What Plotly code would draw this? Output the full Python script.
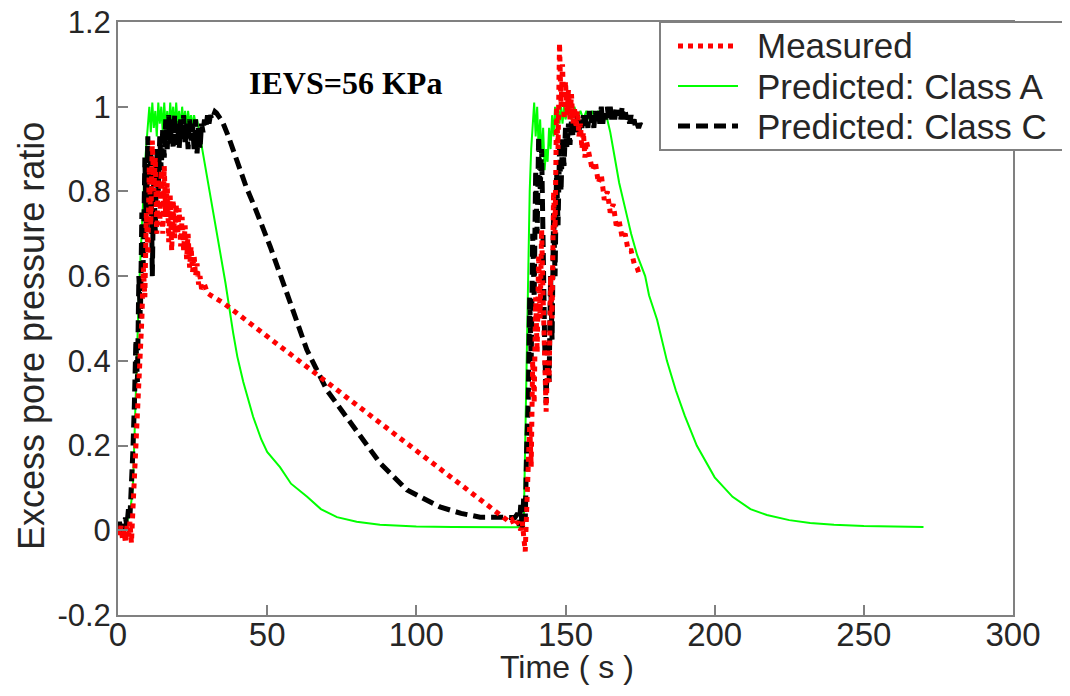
import plotly.graph_objects as go

# ---------------- data ----------------
t_meas = [0, 0.5, 1, 1.5, 2, 2.5, 3, 3.5, 4, 4.5,
          5, 5.5, 6, 6.5, 7, 7.5, 8, 8.5, 9, 9.5,
          10, 10.5, 11, 11.5, 12, 12.5, 13, 13.5, 14, 14.5,
          15, 15.5, 16, 16.5, 17, 17.5, 18, 18.5, 19, 19.5,
          20, 20.5, 21, 21.5, 22, 22.5, 23, 23.5, 24, 24.5,
          25, 25.5, 26, 26.5, 27, 27.5, 28, 29, 30, 31,
          32, 33, 34, 35.3, 130.4, 131, 132, 133, 134, 135,
          135.5, 136, 136.5, 137, 137.5, 138, 138.5, 139, 139.5, 140,
          140.5, 141, 141.5, 142, 142.5, 143, 143.5, 144, 144.5, 145,
          145.5, 146, 146.5, 147, 147.5, 148, 148.5, 149, 149.5, 150,
          150.5, 151, 151.5, 152, 152.5, 153, 153.5, 154, 154.5, 155,
          155.5, 156, 156.5, 157, 158, 159, 160, 161, 162, 163,
          164, 165, 166, 167, 168, 169, 170, 171, 172, 173,
          174, 175]
y_meas = [0.00, -0.01, 0.01, -0.02, 0.00, -0.03, 0.01, -0.02, 0.02, -0.03,
          0.05, 0.12, 0.19, 0.26, 0.35, 0.45, 0.50, 0.62, 0.55, 0.75,
          0.65, 0.86, 0.72, 0.92, 0.80, 0.88, 0.70, 0.83, 0.72, 0.85,
          0.70, 0.86, 0.74, 0.82, 0.68, 0.79, 0.66, 0.78, 0.69, 0.77,
          0.70, 0.76, 0.67, 0.74, 0.66, 0.72, 0.64, 0.70, 0.62, 0.67,
          0.61, 0.65, 0.60, 0.63, 0.58, 0.60, 0.57, 0.58, 0.56, 0.555,
          0.55, 0.545, 0.54, 0.537, 0.024, 0.02, 0.025, 0.01, 0.02, 0.0,
          0.02, -0.02, -0.05, 0.05, 0.15, 0.25, 0.15, 0.40, 0.30, 0.55,
          0.42, 0.65, 0.50, 0.71, 0.55, 0.40, 0.28, 0.40, 0.35, 0.60,
          0.50, 0.80, 0.70, 1.00, 0.90, 1.15, 1.00, 1.10, 0.97, 1.06,
          0.98, 1.04, 0.97, 1.03, 0.96, 1.00, 0.95, 0.99, 0.93, 0.96,
          0.90, 0.94, 0.88, 0.92, 0.88, 0.85, 0.87, 0.82, 0.84, 0.78,
          0.80, 0.75, 0.77, 0.72, 0.73, 0.69, 0.70, 0.66, 0.66, 0.63,
          0.62, 0.598]

t_classA = [0, 1, 2, 3, 4, 5, 5.5, 6, 6.5, 7,
            7.5, 8, 8.5, 9, 9.5, 10, 10.5, 11, 11.5, 12,
            12.5, 13, 13.5, 14, 14.5, 15, 15.5, 16, 16.5, 17,
            17.5, 18, 18.5, 19, 19.5, 20, 20.5, 21, 21.5, 22,
            22.5, 23, 23.5, 24, 24.5, 25, 25.5, 26, 26.5, 27,
            27.5, 28, 30, 32, 34.2, 36, 38.6, 40, 42, 45.3,
            48, 50, 54.3, 58, 63.4, 68, 73.4, 80, 87.8, 100,
            112, 125, 135, 136, 136.5, 137, 137.5, 138, 138.5, 139,
            139.5, 140, 140.5, 141, 141.5, 142, 142.5, 143, 143.5, 144,
            144.5, 145, 145.5, 146, 146.5, 147, 147.5, 148, 148.5, 149,
            149.5, 150, 151, 152, 153, 154, 155, 156, 157, 158,
            159, 160, 161, 162, 163, 164, 165, 166.5, 168, 170,
            172, 174, 176.7, 178, 180.7, 184, 187, 190, 194, 200,
            206, 212, 217.5, 225, 232, 240, 250, 260, 270]
y_classA = [0.0, 0.005, 0.01, 0.02, 0.04, 0.10, 0.22, 0.35, 0.47, 0.56,
            0.64, 0.72, 0.80, 0.86, 0.91, 0.95, 1.00, 0.94, 1.01, 0.95,
            0.99, 0.93, 1.01, 0.96, 1.00, 0.94, 1.01, 0.95, 0.99, 0.94,
            1.01, 0.96, 1.00, 0.95, 1.01, 0.96, 0.99, 0.95, 1.00, 0.96,
            0.99, 0.95, 0.99, 0.96, 0.98, 0.95, 0.98, 0.96, 0.97, 0.95,
            0.93, 0.91, 0.83, 0.75, 0.662, 0.585, 0.466, 0.41, 0.35, 0.268,
            0.215, 0.185, 0.149, 0.11, 0.079, 0.05, 0.031, 0.02, 0.013, 0.009,
            0.008, 0.007, 0.007, 0.01, 0.20, 0.45, 0.65, 0.80, 0.90, 0.95,
            1.01, 0.93, 1.00, 0.90, 0.97, 0.88, 0.95, 0.85, 0.90, 0.87,
            0.95, 0.90, 0.98, 0.93, 1.00, 0.95, 1.00, 0.96, 1.00, 0.96,
            1.00, 0.97, 1.00, 0.97, 1.00, 0.97, 0.99, 0.97, 0.99, 0.97,
            0.99, 0.97, 0.99, 0.97, 0.98, 0.97, 0.94, 0.88, 0.82, 0.76,
            0.70, 0.65, 0.60, 0.555, 0.497, 0.40, 0.33, 0.27, 0.20, 0.125,
            0.079, 0.05, 0.036, 0.024, 0.017, 0.013, 0.01, 0.009, 0.008]

t_classC = [0, 0.5, 1, 1.5, 2, 2.5, 3, 3.5, 4, 4.5,
            5, 5.5, 6, 6.5, 7, 7.5, 8, 8.5, 9, 9.5,
            10, 10.5, 11, 11.5, 12, 12.5, 13, 13.5, 14, 14.5,
            15, 15.5, 16, 16.5, 17, 17.5, 18, 18.5, 19, 19.5,
            20, 20.5, 21, 21.5, 22, 22.5, 23, 23.5, 24, 24.5,
            25, 25.5, 26, 26.5, 27, 27.5, 28, 28.5, 29, 29.5,
            30, 30.5, 31, 31.5, 32, 32.5, 33, 34, 35, 37,
            40, 43, 46, 51, 56.6, 63.3, 70, 78.8, 87.8, 96.9,
            107.9, 115, 121.4, 129, 133, 134, 134.5, 135, 135.5, 136,
            136.5, 137, 137.5, 138, 138.5, 139, 139.5, 140, 140.5, 141,
            141.5, 142, 142.5, 143, 143.5, 144, 144.5, 145, 145.5, 146,
            146.5, 147, 147.5, 148, 148.5, 149, 149.5, 150, 150.5, 151,
            151.5, 152, 152.5, 153, 153.5, 154, 154.5, 155, 155.5, 156,
            156.5, 157, 157.5, 158, 158.5, 159, 159.5, 160, 160.5, 161,
            161.5, 162, 162.5, 163, 163.5, 164, 164.5, 165, 165.5, 166,
            166.5, 167, 167.5, 168, 168.5, 169, 169.5, 170, 170.5, 171,
            171.5, 172, 172.5, 173, 173.5, 174, 174.5, 175, 175.7]
y_classC = [0.0, 0.02, -0.01, 0.02, 0.0, 0.03, 0.01, 0.05, 0.03, 0.10,
            0.19, 0.30, 0.45, 0.35, 0.60, 0.50, 0.75, 0.62, 0.88, 0.70,
            0.93, 0.75, 0.90, 0.60, 0.85, 0.70, 0.90, 0.80, 0.93, 0.85,
            0.95, 0.88, 0.97, 0.90, 0.98, 0.91, 0.97, 0.90, 0.98, 0.91,
            0.96, 0.90, 0.97, 0.92, 0.98, 0.91, 0.96, 0.90, 0.97, 0.92,
            0.96, 0.90, 0.97, 0.89, 0.95, 0.90, 0.96, 0.94, 0.97, 0.95,
            0.98, 0.96, 0.98, 0.97, 0.98, 0.988, 0.985, 0.975, 0.965, 0.93,
            0.87, 0.81, 0.76, 0.67, 0.56, 0.426, 0.331, 0.244, 0.159, 0.095,
            0.055, 0.04, 0.031, 0.031, 0.03, 0.04, 0.01, 0.06, 0.0, 0.08,
            0.02, 0.20, 0.30, 0.55, 0.40, 0.70, 0.55, 0.85, 0.70, 0.93,
            0.80, 0.90, 0.60, 0.45, 0.30, 0.45, 0.35, 0.60, 0.45, 0.75,
            0.60, 0.85, 0.72, 0.90, 0.80, 0.93, 0.86, 0.95, 0.90, 0.96,
            0.91, 0.97, 0.93, 0.97, 0.94, 0.98, 0.94, 0.97, 0.95, 0.98,
            0.95, 0.98, 0.95, 0.99, 0.96, 0.98, 0.95, 0.99, 0.96, 0.99,
            0.96, 1.00, 0.96, 0.99, 0.97, 1.00, 0.97, 1.00, 0.97, 0.99,
            0.97, 1.00, 0.98, 0.99, 0.97, 1.00, 0.97, 0.99, 0.97, 0.98,
            0.96, 0.98, 0.96, 0.97, 0.95, 0.96, 0.95, 0.96, 0.952]

x_ticks = [0, 50, 100, 150, 200, 250, 300]
x_ticktext = ["0", "50", "100", "150", "200", "250", "300"]
y_ticks = [-0.2, 0, 0.2, 0.4, 0.6, 0.8, 1.0, 1.2]
y_ticktext = ["-0.2", "0", "0.2", "0.4", "0.6", "0.8", "1", "1.2"]

series_names = ["Measured", "Predicted: Class A", "Predicted: Class C"]
series_colors = ["#ff0000", "#00ff00", "#000000"]
annotation_text = "IEVS=56 KPa"
x_title = "Time ( s )"
y_title = "Excess pore pressure ratio"

SANS = "Liberation Sans, Arial, sans-serif"
TXT = "#262626"
AXC = "#808080"

# The page body has an 8 px margin, so the figure is drawn 8 px in from the
# window's top-left corner.  Geometry below is given in window pixels.
OFF = 8
W, H = 1070 - OFF, 696 - OFF
L, R, T, B = 118 - OFF, 57, 22 - OFF, 81
PW, PH = W - L - R, H - T - B


def px_x(px):
    return (px - OFF - L) / PW


def px_y(py):
    return (H - B - (py - OFF)) / PH


# ---------------- figure ----------------
fig = go.Figure()
fig.add_trace(go.Scatter(x=t_classA, y=y_classA, mode="lines", name=series_names[1],
                         showlegend=False, line=dict(color=series_colors[1], width=2)))
fig.add_trace(go.Scatter(x=t_classC, y=y_classC, mode="lines", name=series_names[2],
                         showlegend=False, line=dict(color=series_colors[2], width=5, dash="12px,6px")))
fig.add_trace(go.Scatter(x=t_meas, y=y_meas, mode="lines", name=series_names[0],
                         showlegend=False, line=dict(color=series_colors[0], width=5, dash="5px,5px")))

axis_common = dict(showline=True, mirror=True, linecolor=AXC, linewidth=2,
                   ticks="inside", ticklen=10, tickwidth=2, tickcolor=AXC,
                   showgrid=False, zeroline=False, ticklabeloverflow="allow")

fig.update_xaxes(range=[0, 300], tickvals=x_ticks, ticktext=x_ticktext,
                 ticklabelstandoff=-11, tickfont=dict(family=SANS, size=33, color=TXT),
                 **axis_common)
fig.update_yaxes(range=[-0.2, 1.2], tickvals=y_ticks, ticktext=y_ticktext,
                 ticklabelstandoff=-1, tickfont=dict(family=SANS, size=31, color=TXT),
                 **axis_common)

# axis titles
fig.add_annotation(xref="paper", yref="paper", x=px_x(567), y=px_y(667), text=x_title,
                   showarrow=False, xanchor="center", yanchor="middle",
                   font=dict(family=SANS, size=32, color=TXT))
fig.add_annotation(xref="paper", yref="paper", x=px_x(31), y=px_y(336), text=y_title,
                   textangle=-90, showarrow=False, xanchor="center", yanchor="middle",
                   font=dict(family=SANS, size=36, color=TXT))

fig.add_annotation(x=76.4, y=1.056, xref="x", yref="y", text="<b>" + annotation_text + "</b>",
                   showarrow=False, xanchor="center", yanchor="middle",
                   font=dict(family="Liberation Serif, Times New Roman, serif", size=32, color="#000000"))

# ---- legend box drawn like the original MATLAB legend ----
leg_left, leg_right, leg_top, leg_bottom = 660, 1068, 22, 150
fig.add_shape(type="rect", xref="paper", yref="paper",
              x0=px_x(leg_left), x1=px_x(leg_right), y0=px_y(leg_bottom), y1=px_y(leg_top),
              line=dict(color=AXC, width=2), fillcolor="white", layer="above")
row_y = [46, 86, 126]
dashes = ["5px,5px", "solid", "12px,6px"]
widths = [5, 2, 5]
for i in range(3):
    fig.add_shape(type="line", xref="paper", yref="paper",
                  x0=px_x(678), x1=px_x(738), y0=px_y(row_y[i]), y1=px_y(row_y[i]),
                  line=dict(color=series_colors[i], width=widths[i], dash=dashes[i]),
                  layer="above")
    fig.add_annotation(xref="paper", yref="paper", x=px_x(755), y=px_y(row_y[i]),
                       text=series_names[i], showarrow=False, xanchor="left", yanchor="middle",
                       font=dict(family=SANS, size=35, color=TXT))

fig.update_layout(
    width=W, height=H,
    margin=dict(l=L, r=R, t=T, b=B, autoexpand=False),
    plot_bgcolor="white", paper_bgcolor="white",
    showlegend=False,
)

fig.write_html("out.html")
